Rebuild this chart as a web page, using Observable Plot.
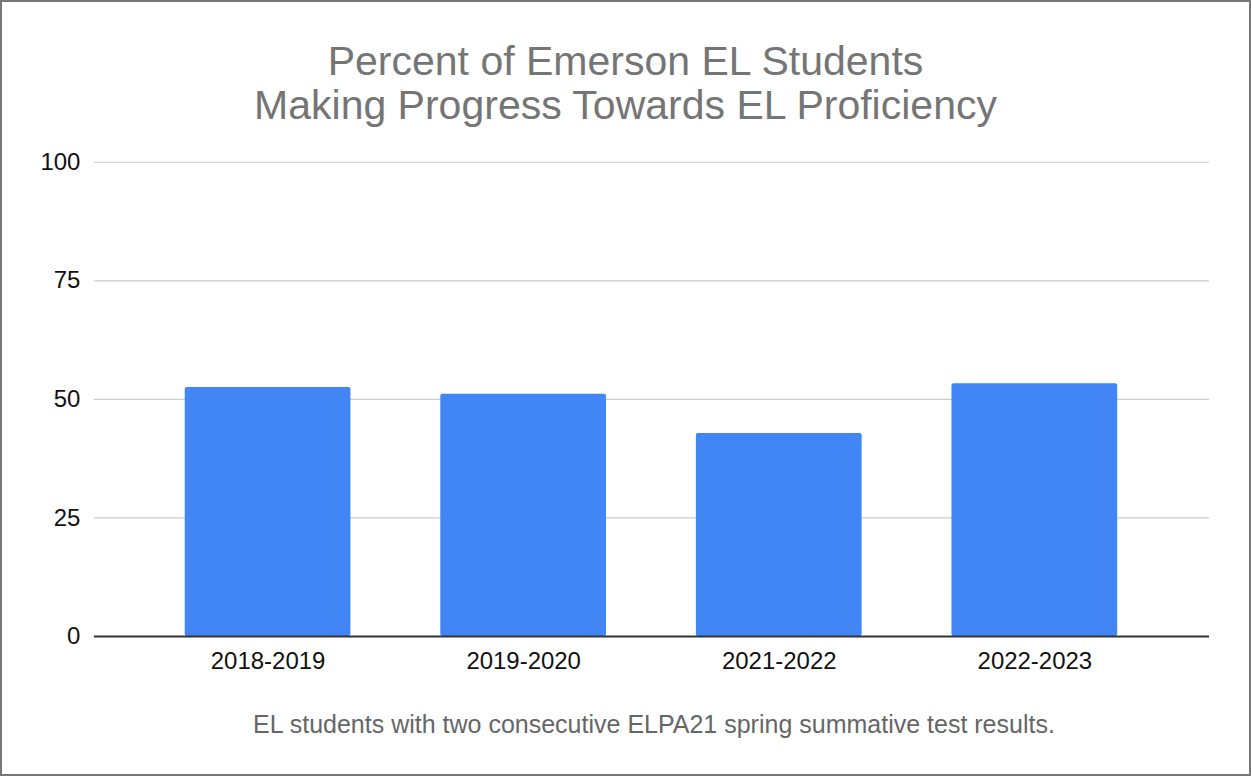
<!DOCTYPE html>
<html>
<head>
<meta charset="utf-8">
<script src="https://cdn.jsdelivr.net/npm/d3@7"></script>
<script src="https://cdn.jsdelivr.net/npm/@observablehq/plot@0.6"></script>
<style>
  html, body { margin: 0; padding: 0; background: #fff; }
  #frame {
    position: relative; width: 1251px; height: 776px; box-sizing: border-box;
    border: 2px solid #777; overflow: hidden; background: #fff;
    font-family: "Liberation Sans", Arial, sans-serif;
  }
  #chart { position: absolute; left: -2px; top: -2px; }
  .tline {
    position: absolute; left: -2px; width: 1251px; text-align: center;
    font-size: 41px; line-height: 44px; height: 44px; color: #757575; white-space: nowrap;
  }
  #caption {
    position: absolute; left: 50px; width: 1204px; top: 707px; text-align: center;
    font-size: 25px; line-height: 30px; color: #666;
  }
</style>
</head>
<body>
<div id="frame">
  <div id="chart"></div>
  <div class="tline" style="top:37px">Percent of Emerson EL Students</div>
  <div class="tline" style="top:81px">Making Progress Towards EL Proficiency</div>
  <div id="caption">EL students with two consecutive ELPA21 spring summative test results.</div>
</div>
<script>
const years = ["2018-2019", "2019-2020", "2021-2022", "2022-2023"];
const percents = [52.5, 51.1, 42.8, 53.3];
const yTicks = [0, 25, 50, 75, 100];

const data = years.map((year, i) => ({ year, value: percents[i] }));

const chart = Plot.plot({
  width: 1251,
  height: 776,
  marginLeft: 94,
  marginRight: 40,
  marginTop: 162,
  marginBottom: 139,
  style: { fontFamily: "'Liberation Sans', Arial, sans-serif", fontSize: "24px", color: "#111", background: "transparent" },
  x: { domain: years, padding: 0.35, label: null },
  y: { domain: [0, 100], label: null },
  marks: [
    Plot.ruleY(yTicks.filter(d => d > 0), { stroke: "#cccccc", strokeWidth: 1.2 }),
    Plot.barY(data, { x: "year", y: "value", fill: "#4285f4", rx: 2 }),
    Plot.ruleY([0], { stroke: "#333", strokeWidth: 2 }),
    Plot.axisY({ ticks: yTicks, tickSize: 0, tickPadding: 14, label: null, fontSize: 24 }),
    Plot.axisX({ tickSize: 0, tickPadding: 16, label: null, fontSize: 24 })
  ]
});
document.getElementById("chart").appendChild(chart);
</script>
</body>
</html>
